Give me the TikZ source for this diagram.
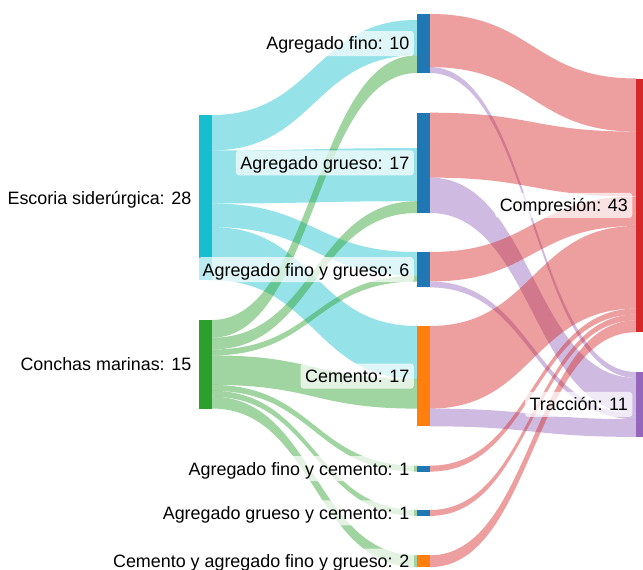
\documentclass[tikz,border=0pt]{standalone}
\usepackage{fontspec}
\setmainfont{Liberation Sans}
\usetikzlibrary{calc}
\definecolor{cEsc}{RGB}{23,190,207}
\definecolor{cCon}{RGB}{44,160,44}
\definecolor{cBlue}{RGB}{31,119,180}
\definecolor{cOra}{RGB}{255,127,14}
\definecolor{cRed}{RGB}{214,39,40}
\definecolor{cPur}{RGB}{148,103,189}
\newcommand{\skU}{5.9}
% #1 colour, #2 source node, #3 offset in source (units), #4 target node, #5 offset in target, #6 value
\newcommand{\sklink}[6]{%
  \fill[#1,fill opacity=0.45] let \p1=($(#2.north east)+(0,{#3*\skU})$),
     \p2=($(#4.north west)+(0,{#5*\skU})$),
     \p3=($(\p1)!0.5!(\p2)$),
     \p4=($(\p1)+(0,{#6*\skU})$),
     \p5=($(\p2)+(0,{#6*\skU})$) in
     (\p1) .. controls (\x3,\y1) and (\x3,\y2) .. (\p2) -- (\p5)
     .. controls (\x3,\y5) and (\x3,\y4) .. (\p4) -- cycle;}
\begin{document}
\begin{tikzpicture}[x=1pt,y=-1pt,
  skn/.style={rectangle, inner sep=0pt, outer sep=0pt, minimum width=13pt,
    anchor=north west, minimum height=#1*5.9pt},
  skr/.style={rectangle, inner sep=0pt, outer sep=0pt, minimum width=7pt,
    anchor=north west, minimum height=#1*5.9pt},
  lbl/.style={fill=white, fill opacity=0.7, text opacity=1, rounded corners=3pt,
    inner xsep=4.5pt, inner ysep=0pt, text height=12.8pt, text depth=0pt,
    minimum height=25pt, anchor=east, font=\fontsize{17.9}{20}\selectfont}]
\useasboundingbox (0,0) rectangle (643,570);
% nodes
\node[skn=28, fill=cEsc] (escoria) at (199,115) {};
\node[skn=15, fill=cCon] (conchas) at (199,320) {};
\node[skn=10, fill=cBlue] (agfino) at (417,14) {};
\node[skn=17, fill=cBlue] (aggrueso) at (417,112.7) {};
\node[skn=6, fill=cBlue] (fyg) at (417,252) {};
\node[skn=17, fill=cOra] (cemento) at (417,326) {};
\node[skn=1, fill=cBlue] (fyc) at (417,465.7) {};
\node[skn=1, fill=cBlue] (gyc) at (417,510) {};
\node[skn=2, fill=cOra] (cfyg) at (417,555.3) {};
\node[skr=43, fill=cRed] (compresion) at (636,78.5) {};
\node[skr=11, fill=cPur] (traccion) at (636,372) {};
% links, first stage
\sklink{cEsc}{escoria}{0}{agfino}{1}{6}
\sklink{cEsc}{escoria}{6}{aggrueso}{6}{9}
\sklink{cEsc}{escoria}{15}{fyg}{0}{4}
\sklink{cEsc}{escoria}{19}{cemento}{0}{9}
\sklink{cCon}{conchas}{0}{agfino}{7}{3}
\sklink{cCon}{conchas}{3}{aggrueso}{15}{2}
\sklink{cCon}{conchas}{5}{fyg}{4}{1}
\sklink{cCon}{conchas}{6}{cemento}{9}{5}
\sklink{cCon}{conchas}{11}{fyc}{0}{1}
\sklink{cCon}{conchas}{12}{gyc}{0}{1}
\sklink{cCon}{conchas}{13}{cfyg}{0}{2}
% links, second stage
\sklink{cRed}{agfino}{0}{compresion}{0}{9}
\sklink{cPur}{agfino}{9}{traccion}{0}{1}
\sklink{cRed}{aggrueso}{0}{compresion}{9}{11}
\sklink{cPur}{aggrueso}{11}{traccion}{1}{6}
\sklink{cRed}{fyg}{0}{compresion}{20}{5}
\sklink{cPur}{fyg}{5}{traccion}{7}{1}
\sklink{cRed}{cemento}{0}{compresion}{25}{14}
\sklink{cPur}{cemento}{14}{traccion}{8}{3}
\sklink{cRed}{fyc}{0}{compresion}{39}{1}
\sklink{cRed}{gyc}{0}{compresion}{40}{1}
\sklink{cRed}{cfyg}{0}{compresion}{41}{2}
% labels
\node[lbl] (l-escoria) at ($(escoria.west)+(-3,0)$) {Escoria siderúrgica: 28};
\node[lbl] (l-conchas) at ($(conchas.west)+(-3,0)$) {Conchas marinas: 15};
\node[lbl] (l-agfino) at ($(agfino.west)+(-3,0)$) {Agregado fino: 10};
\node[lbl] (l-aggrueso) at ($(aggrueso.west)+(-3,0)$) {Agregado grueso: 17};
\node[lbl] (l-fyg) at ($(fyg.west)+(-3,0)$) {Agregado fino y grueso: 6};
\node[lbl] (l-cemento) at ($(cemento.west)+(-3,0)$) {Cemento: 17};
\node[lbl] (l-fyc) at ($(fyc.west)+(-3,0)$) {Agregado fino y cemento: 1};
\node[lbl] (l-gyc) at ($(gyc.west)+(-3,0)$) {Agregado grueso y cemento: 1};
\node[lbl] (l-cfyg) at ($(cfyg.west)+(-3,0)$) {Cemento y agregado fino y grueso: 2};
\node[lbl] (l-compresion) at ($(compresion.west)+(-3.5,0)$) {Compresión: 43};
\node[lbl] (l-traccion) at ($(traccion.west)+(-3.5,0)$) {Tracción: 11};
\end{tikzpicture}
\end{document}
